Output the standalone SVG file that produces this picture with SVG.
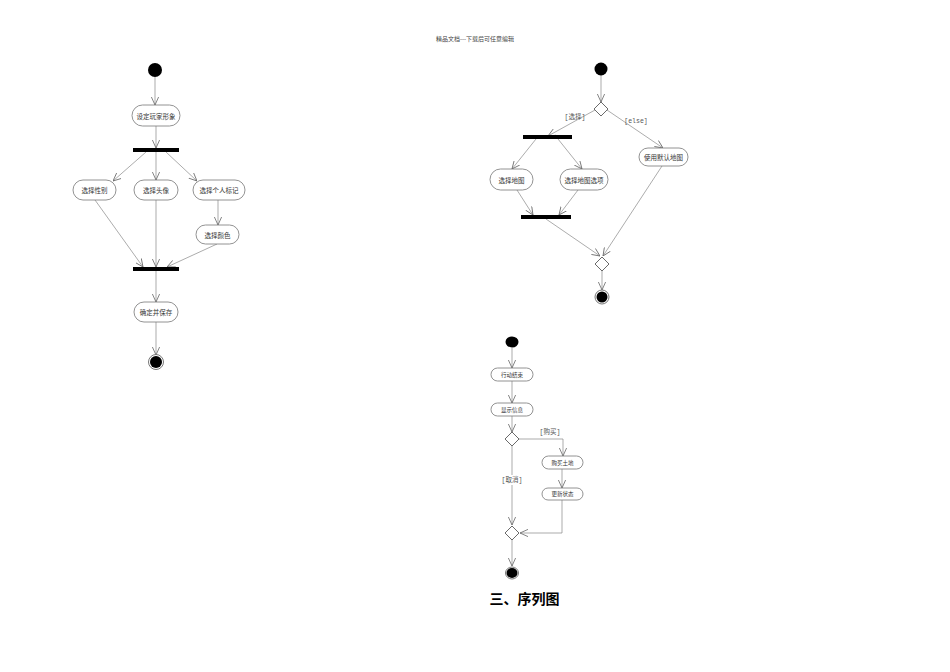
<svg xmlns="http://www.w3.org/2000/svg" width="950" height="672" viewBox="0 0 950 672">
<defs>
<marker id="a" viewBox="0 0 10 10" refX="10" refY="5" markerWidth="8" markerHeight="8" orient="auto" markerUnits="userSpaceOnUse"><path d="M0,0.5 L10,5 L0,9.5" fill="none" stroke="#666" stroke-width="1"/></marker>
</defs>
<style>
.n{fill:#fff;stroke:#777;stroke-width:0.8}
.t{font-family:"Noto Sans CJK SC",sans-serif;font-size:6.5px;fill:#333;text-anchor:middle;dominant-baseline:central}
.g{font-family:"Liberation Mono","Noto Sans CJK SC",monospace;font-size:6.5px;fill:#555;text-anchor:middle;dominant-baseline:central}
.c line,.c path{stroke:#888;stroke-width:0.7;fill:none;marker-end:url(#a)}
.bar{fill:#000}
.d{fill:#fff;stroke:#444;stroke-width:0.8}
</style>
<rect width="950" height="672" fill="#fff"/>
<text x="475" y="38" class="t" style="font-size:6px;fill:#444">精品文档---下载后可任意编辑</text>

<g class="c" id="connectors">
<line x1="155" y1="77" x2="155" y2="105"/>
<line x1="156" y1="126" x2="156" y2="148"/>
<line x1="146" y1="152" x2="113" y2="181"/>
<line x1="156" y1="152" x2="156" y2="180"/>
<line x1="166" y1="152" x2="197" y2="181"/>
<line x1="218" y1="200" x2="218" y2="225"/>
<line x1="95" y1="200" x2="143" y2="267"/>
<line x1="156" y1="200" x2="156" y2="267"/>
<line x1="217" y1="244" x2="167" y2="267"/>
<line x1="156" y1="271" x2="156" y2="302"/>
<line x1="156" y1="322" x2="156" y2="355"/>

<line x1="601" y1="75" x2="601" y2="102"/>
<line x1="595" y1="110" x2="548" y2="136"/>
<line x1="607" y1="110" x2="663" y2="148"/>
<line x1="536" y1="139" x2="512" y2="169"/>
<line x1="558" y1="139" x2="582" y2="169"/>
<line x1="517" y1="190" x2="533" y2="215"/>
<line x1="578" y1="190" x2="559" y2="215"/>
<line x1="662" y1="166" x2="603" y2="256"/>
<line x1="546" y1="219" x2="600" y2="256"/>
<line x1="602" y1="271" x2="602" y2="290"/>

<line x1="512" y1="348" x2="512" y2="368"/>
<line x1="512" y1="381" x2="512" y2="403"/>
<line x1="512" y1="416" x2="512" y2="432"/>
<path d="M519,439 H563 V456"/>
<line x1="562" y1="469" x2="562" y2="488"/>
<path d="M562,500 V533 H520"/>
<line x1="512" y1="446" x2="512" y2="525"/>
<line x1="512" y1="539" x2="512" y2="566"/>
</g>

<g id="labels">
<text x="575" y="117" class="g">[选择]</text>
<text x="636" y="121" class="g">[else]</text>
<text x="550" y="432" class="g">[购买]</text>
<rect x="502" y="475" width="21" height="10" fill="#fff"/>
<text x="512" y="480" class="g">[取消]</text>
</g>

<g id="start1"><circle cx="155" cy="70" r="7" fill="#000"/></g>
<g id="n1"><rect x="132" y="105" width="48" height="21" rx="10.5" class="n"/><text x="156" y="115.5" class="t">设定玩家形象</text></g>
<g id="fork1"><rect x="133" y="148" width="46" height="4" class="bar"/></g>
<g id="n2"><rect x="73" y="180" width="43" height="20" rx="10" class="n"/><text x="94.5" y="190" class="t">选择性别</text></g>
<g id="n3"><rect x="134" y="180" width="44" height="20" rx="10" class="n"/><text x="156" y="190" class="t">选择头像</text></g>
<g id="n4"><rect x="193" y="180" width="52" height="20" rx="10" class="n"/><text x="219" y="190" class="t">选择个人标记</text></g>
<g id="n5"><rect x="196" y="225" width="43" height="19" rx="9.5" class="n"/><text x="217.5" y="234.5" class="t">选择颜色</text></g>
<g id="join1"><rect x="133" y="267" width="46" height="4" class="bar"/></g>
<g id="n6"><rect x="134" y="302" width="44" height="20" rx="10" class="n"/><text x="156" y="312" class="t">确定并保存</text></g>
<g id="end1"><circle cx="156" cy="362" r="7.5" fill="none" stroke="#777" stroke-width="1"/><circle cx="156" cy="362" r="6" fill="#000"/></g>

<g id="start2"><circle cx="601" cy="69" r="6.5" fill="#000"/></g>
<g id="dec2"><path d="M601,102 L608,109 L601,116 L594,109 Z" class="d"/></g>
<g id="fork2"><rect x="523" y="135" width="49" height="4" class="bar"/></g>
<g id="n7"><rect x="639" y="148" width="49" height="18" rx="9" class="n"/><text x="663.5" y="157" class="t">使用默认地图</text></g>
<g id="n8"><rect x="490" y="169" width="43" height="21" rx="10.5" class="n"/><text x="511.5" y="179.5" class="t">选择地图</text></g>
<g id="n9"><rect x="560" y="169" width="48" height="21" rx="10.5" class="n"/><text x="584" y="179.5" class="t">选择地图选项</text></g>
<g id="join2"><rect x="521" y="215" width="50" height="4" class="bar"/></g>
<g id="merge2"><path d="M602,257 L609,264 L602,271 L595,264 Z" class="d"/></g>
<g id="end2"><circle cx="602" cy="297" r="7" fill="none" stroke="#777" stroke-width="1"/><circle cx="602" cy="297" r="5.5" fill="#000"/></g>

<g id="start3"><ellipse cx="512" cy="342" rx="6.5" ry="5.5" fill="#000"/></g>
<g id="n10"><rect x="491" y="368" width="42" height="13" rx="6.5" class="n"/><text x="512" y="374.5" class="t" style="font-size:5.5px">行动结束</text></g>
<g id="n11"><rect x="491" y="403" width="42" height="13" rx="6.5" class="n"/><text x="512" y="409.5" class="t" style="font-size:5.5px">显示信息</text></g>
<g id="dec3"><path d="M512,432 L519,439 L512,446 L505,439 Z" class="d"/></g>
<g id="n12"><rect x="542" y="456" width="41" height="13" rx="6.5" class="n"/><text x="562.5" y="462.5" class="t" style="font-size:5.5px">购买土地</text></g>
<g id="n13"><rect x="542" y="488" width="41" height="12" rx="6" class="n"/><text x="562.5" y="494" class="t" style="font-size:5.5px">更新状态</text></g>
<g id="merge3"><path d="M512,526 L519,533 L512,540 L505,533 Z" class="d"/></g>
<g id="end3"><ellipse cx="512" cy="573" rx="6.5" ry="6" fill="none" stroke="#777" stroke-width="1"/><ellipse cx="512" cy="573" rx="5.5" ry="5" fill="#000"/></g>

<text x="524.5" y="598" style="font-family:'Noto Sans CJK SC',sans-serif;font-size:14px;font-weight:bold;fill:#000;text-anchor:middle;dominant-baseline:central">三、序列图</text>
</svg>
